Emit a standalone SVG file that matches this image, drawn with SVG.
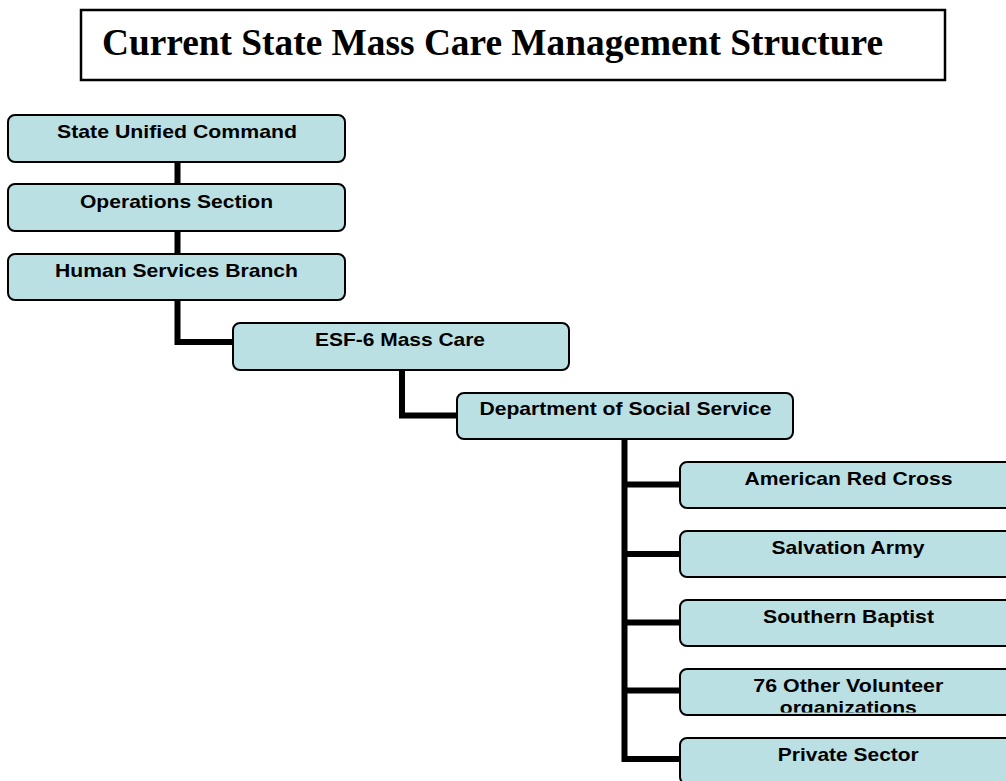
<svg xmlns="http://www.w3.org/2000/svg" width="1006" height="781" viewBox="0 0 1006 781">
  <style>
    .box { fill: #bbe0e3; stroke: #000; stroke-width: 2; }
    .lbl { font-family: "Liberation Sans", Arial, sans-serif; font-weight: bold; font-size: 18.5px; fill: #000; text-anchor: middle; }
    .wire { fill: none; stroke: #000; stroke-width: 6; stroke-linejoin: miter; stroke-linecap: butt; }
    .title { font-family: "Liberation Serif", "Times New Roman", serif; font-weight: bold; font-size: 37px; fill: #000; }
  </style>
  <defs>
    <clipPath id="clip-volunteer">
      <rect x="681" y="670" width="330" height="42.5"/>
    </clipPath>
  </defs>
  <rect width="1006" height="781" fill="#fff"/>

  <!-- heading -->
  <g id="title">
    <rect x="81" y="10" width="864" height="70" fill="#fff" stroke="#000" stroke-width="2.5"/>
    <text class="title" x="102" y="55" textLength="781" lengthAdjust="spacingAndGlyphs">Current State Mass Care Management Structure</text>
  </g>

  <!-- connectors -->
  <g id="connectors">
    <path class="wire" d="M177.5 162 V185"/>
    <path class="wire" d="M177.5 231 V255"/>
    <path class="wire" d="M177.5 300 V342 H234"/>
    <path class="wire" d="M402 370 V415.5 H458"/>
    <path class="wire" d="M624.5 439 V759 H681"/>
    <path class="wire" d="M624.5 484.5 H681"/>
    <path class="wire" d="M624.5 554 H681"/>
    <path class="wire" d="M624.5 622.5 H681"/>
    <path class="wire" d="M624.5 690.5 H681"/>
  </g>

  <g id="state-unified-command">
    <rect class="box" x="8" y="115" width="337" height="47" rx="7"/>
    <text class="lbl" x="177" y="138" textLength="240" lengthAdjust="spacingAndGlyphs">State Unified Command</text>
  </g>
  <g id="operations-section">
    <rect class="box" x="8" y="184" width="337" height="47" rx="7"/>
    <text class="lbl" x="176.5" y="208" textLength="193" lengthAdjust="spacingAndGlyphs">Operations Section</text>
  </g>
  <g id="human-services-branch">
    <rect class="box" x="8" y="254" width="337" height="46" rx="7"/>
    <text class="lbl" x="176.5" y="277" textLength="243" lengthAdjust="spacingAndGlyphs">Human Services Branch</text>
  </g>
  <g id="esf6-mass-care">
    <rect class="box" x="233" y="323" width="336" height="47" rx="7"/>
    <text class="lbl" x="400" y="346" textLength="170" lengthAdjust="spacingAndGlyphs">ESF-6 Mass Care</text>
  </g>
  <g id="dept-social-service">
    <rect class="box" x="457" y="393" width="336" height="46" rx="7"/>
    <text class="lbl" x="625.5" y="415" textLength="292" lengthAdjust="spacingAndGlyphs">Department of Social Service</text>
  </g>
  <g id="american-red-cross">
    <rect class="box" x="680" y="462" width="337" height="46" rx="7"/>
    <text class="lbl" x="848.5" y="485" textLength="208" lengthAdjust="spacingAndGlyphs">American Red Cross</text>
  </g>
  <g id="salvation-army">
    <rect class="box" x="680" y="531" width="337" height="46" rx="7"/>
    <text class="lbl" x="848" y="554" textLength="153" lengthAdjust="spacingAndGlyphs">Salvation Army</text>
  </g>
  <g id="southern-baptist">
    <rect class="box" x="680" y="600" width="337" height="46" rx="7"/>
    <text class="lbl" x="848.5" y="623" textLength="171" lengthAdjust="spacingAndGlyphs">Southern Baptist</text>
  </g>
  <g id="other-volunteer-orgs">
    <rect class="box" x="680" y="669" width="337" height="46" rx="7"/>
    <g clip-path="url(#clip-volunteer)">
      <text class="lbl" x="848.3" y="692" textLength="190" lengthAdjust="spacingAndGlyphs">76 Other Volunteer</text>
      <text class="lbl" x="848.3" y="714" textLength="137" lengthAdjust="spacingAndGlyphs">organizations</text>
    </g>
  </g>
  <g id="private-sector">
    <rect class="box" x="680" y="738" width="337" height="46" rx="7"/>
    <text class="lbl" x="848.3" y="761" textLength="141" lengthAdjust="spacingAndGlyphs">Private Sector</text>
  </g>
</svg>
